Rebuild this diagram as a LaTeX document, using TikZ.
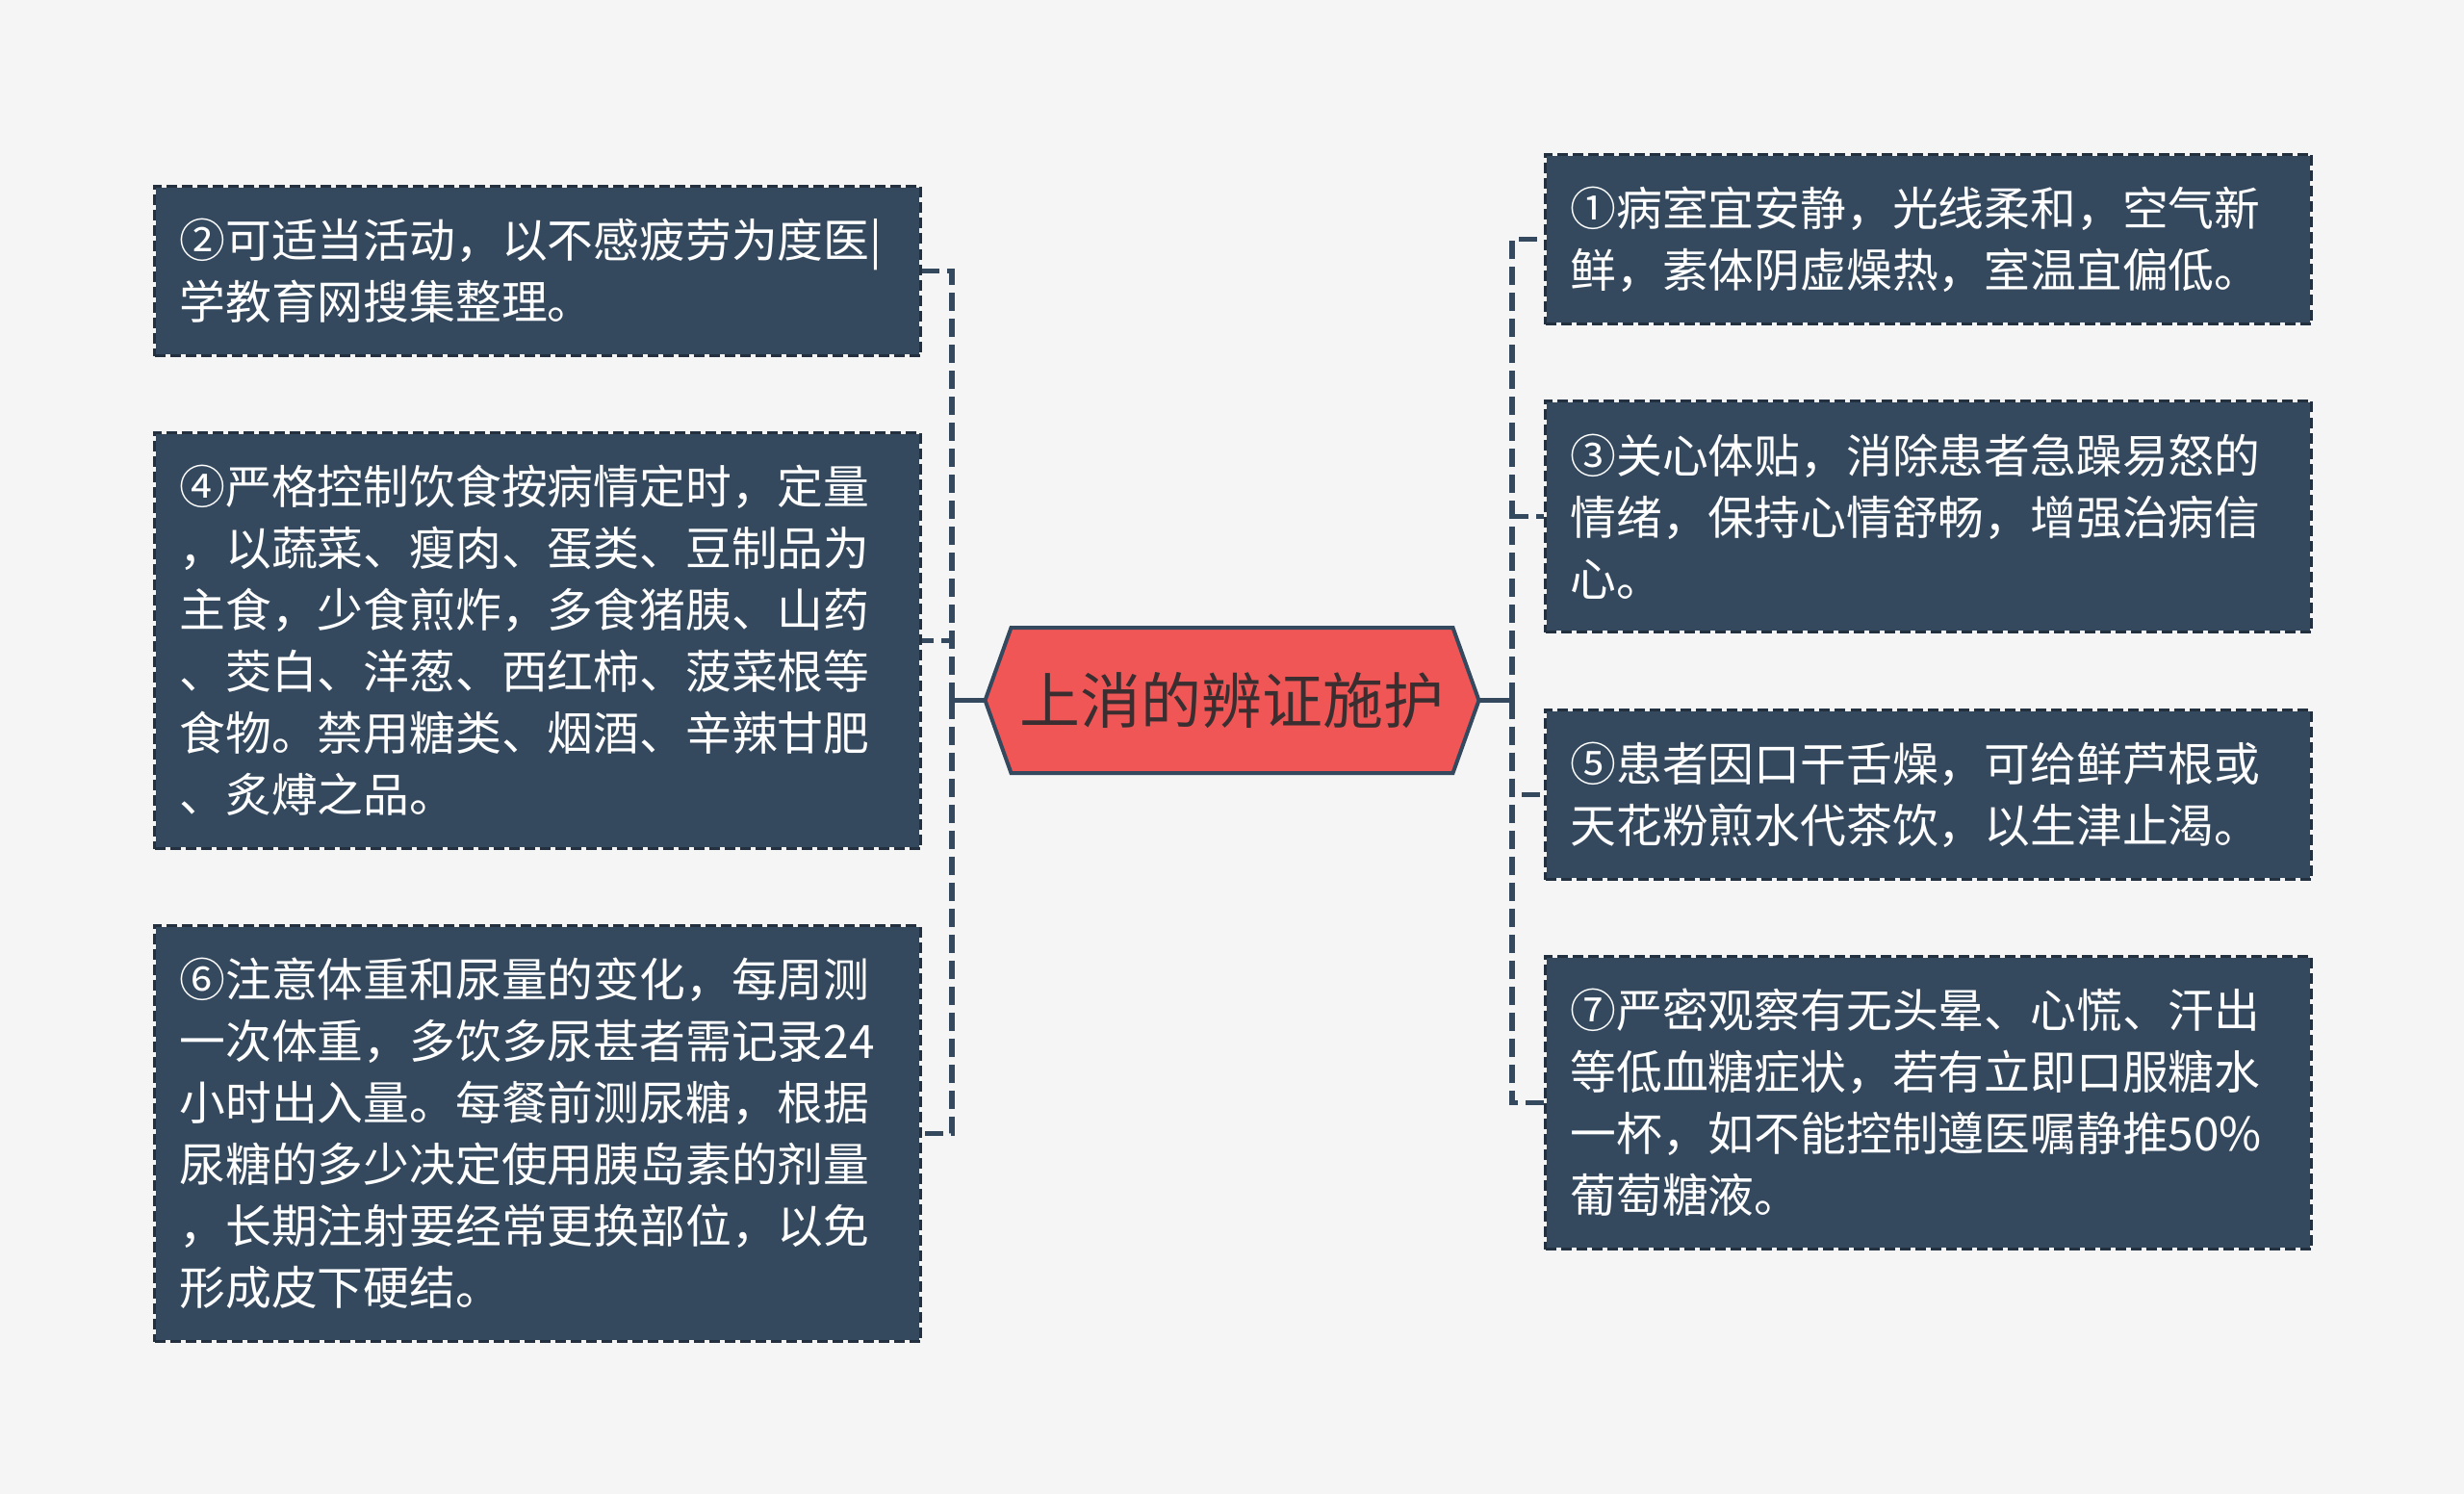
\documentclass[tikz,border=0pt]{standalone}
\usepackage{fontspec}
\setmainfont{Noto Sans CJK SC}
\usepackage{xcolor}
\usepackage{tikz}
\usetikzlibrary{calc}
\usetikzlibrary{math}
\definecolor{fond}{HTML}{F5F5F5}
\definecolor{ardoise}{HTML}{34495E}
\definecolor{bord}{HTML}{223040}
\definecolor{corail}{HTML}{F05656}
\definecolor{encre}{HTML}{3A2E30}

\begin{document}
\begin{tikzpicture}[
    boite/.style={anchor=north west, fill=ardoise, draw=fond, line width=0.03cm,
        postaction={draw=bord, line width=0.03cm, dash pattern=on 0.11cm off 0.05cm},
        text=white, text width=7.44cm, inner xsep=0.26cm, inner ysep=0pt, align=left,
        minimum height={0.48cm+0.64cm*#1},
        font=\fontsize{13.6pt}{18.2pt}\selectfont},
    lien/.style={draw=ardoise, line width=0.055cm, dash pattern=on 0.19cm off 0.08cm}
]
    \tikzmath{\demi = 2.565; \pointe = 0.27; \haut = 0.755;}
    \fill[fond] (0,0) rectangle (25.6,-15.52);
    \useasboundingbox (0,0) rectangle (25.6,-15.52);

    \coordinate (O) at (12.8,-7.275);
    \coordinate (jg) at (9.89,-7.275);
    \coordinate (jd) at (15.71,-7.275);

    % hexagone central
    \draw[fill=corail, draw=ardoise, line width=0.04cm, line join=miter]
        ($(O)+(-\demi,0)$) -- ($(O)+(-\demi+\pointe,\haut)$) -- ($(O)+(\demi-\pointe,\haut)$)
        -- ($(O)+(\demi,0)$) -- ($(O)+(\demi-\pointe,-\haut)$) -- ($(O)+(-\demi+\pointe,-\haut)$) -- cycle;
    \node[minimum width=2*\demi cm, minimum height=2*\haut cm, inner sep=0pt, text=encre,
        font=\fontsize{17.9pt}{20pt}\selectfont] (hub) at (O) {上消的辨证施护};

    % gauche
    \node[boite=2] (b2) at (1.59,-1.92) {②可适当活动，以不感疲劳为度医|\\
        学教育网搜集整理。};
    \node[boite=6] (b4) at (1.59,-4.48) {④严格控制饮食按病情定时，定量\\
        ，以蔬菜、瘦肉、蛋类、豆制品为\\
        主食，少食煎炸，多食猪胰、山药\\
        、茭白、洋葱、西红柿、菠菜根等\\
        食物。禁用糖类、烟酒、辛辣甘肥\\
        、炙煿之品。};
    \node[boite=6] (b6) at (1.59,-9.60) {⑥注意体重和尿量的变化，每周测\\
        一次体重，多饮多尿甚者需记录24\\
        小时出入量。每餐前测尿糖，根据\\
        尿糖的多少决定使用胰岛素的剂量\\
        ，长期注射要经常更换部位，以免\\
        形成皮下硬结。};

    % droite
    \node[boite=2] (b1) at (16.04,-1.59) {①病室宜安静，光线柔和，空气新\\
        鲜，素体阴虚燥热，室温宜偏低。};
    \node[boite=3] (b3) at (16.04,-4.15) {③关心体贴，消除患者急躁易怒的\\
        情绪，保持心情舒畅，增强治病信\\
        心。};
    \node[boite=2] (b5) at (16.04,-7.36) {⑤患者因口干舌燥，可给鲜芦根或\\
        天花粉煎水代茶饮，以生津止渴。};
    \node[boite=4] (b7) at (16.04,-9.92) {⑦严密观察有无头晕、心慌、汗出\\
        等低血糖症状，若有立即口服糖水\\
        一杯，如不能控制遵医嘱静推50\%\\
        葡萄糖液。};

    % liens
    \draw[ardoise, line width=0.055cm] (hub.west) -- (jg);
    \draw[ardoise, line width=0.055cm] (hub.east) -- (jd);
    \foreach \b in {b2,b4,b6} {
        \draw[lien] (jg) |- (\b.east);
    }
    \foreach \b in {b1,b3,b5,b7} {
        \draw[lien] (jd) |- (\b.west);
    }
\end{tikzpicture}
\end{document}
